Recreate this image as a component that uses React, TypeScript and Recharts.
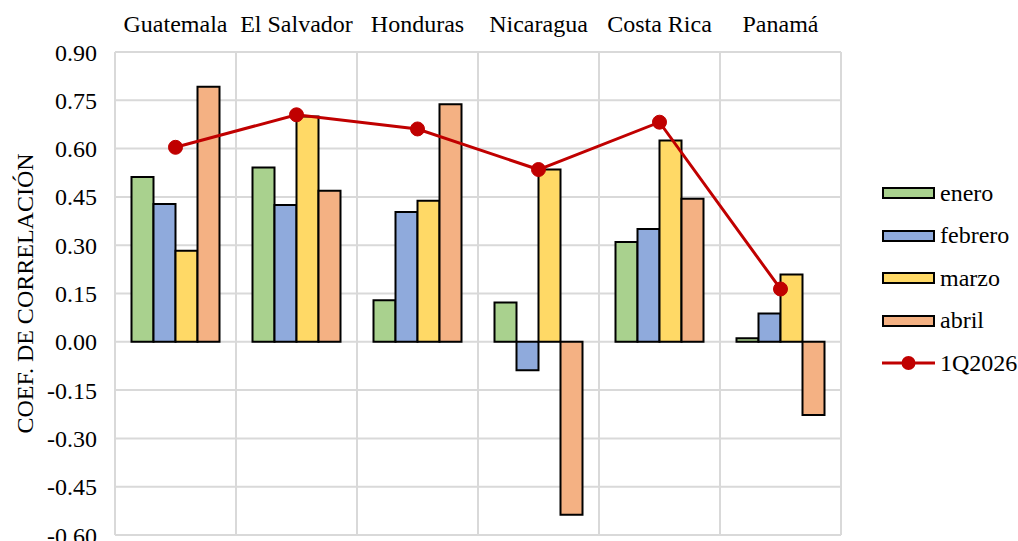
import React from 'react';
import { ComposedChart, Bar, Line, XAxis, YAxis, CartesianGrid } from 'recharts';

const countries = ['Guatemala', 'El Salvador', 'Honduras', 'Nicaragua', 'Costa Rica', 'Panamá'];
const enero = [0.512, 0.541, 0.129, 0.122, 0.31, 0.011];
const febrero = [0.428, 0.425, 0.403, -0.088, 0.35, 0.088];
const marzo = [0.283, 0.7, 0.438, 0.535, 0.625, 0.209];
const abril = [0.792, 0.469, 0.738, -0.537, 0.444, -0.227];
const q12026 = [0.604, 0.705, 0.661, 0.535, 0.682, 0.164];
const yTicks = [-0.6, -0.45, -0.3, -0.15, 0, 0.15, 0.3, 0.45, 0.6, 0.75, 0.9];

const bars = [
  { key: 'enero', color: '#A9D18E' },
  { key: 'febrero', color: '#8FAADC' },
  { key: 'marzo', color: '#FFD966' },
  { key: 'abril', color: '#F4B183' },
];
const LINE_COLOR = '#C00000';
const FONT = '"Liberation Serif", "Times New Roman", serif';
const FS = 24;

const data = countries.map((country, i) => ({
  country,
  enero: enero[i],
  febrero: febrero[i],
  marzo: marzo[i],
  abril: abril[i],
  '1Q2026': q12026[i],
}));

// vertical grid lines sit on the boundaries between categories, not on their centres
const categoryBoundaries = ({ offset }: any) => {
  const step = offset.width / countries.length;
  return Array.from({ length: countries.length + 1 }, (_, i) => offset.left + i * step);
};

const LegendBox = () => (
  <div style={{ position: 'absolute', left: 882, top: 172, fontFamily: FONT, fontSize: FS, color: '#000' }}>
    {bars.map(b => (
      <div key={b.key} style={{ display: 'flex', alignItems: 'center', height: 42.5 }}>
        <div style={{ width: 49, height: 8, background: b.color, border: '2px solid #000', marginRight: 5 }} />
        <span>{b.key}</span>
      </div>
    ))}
    <div style={{ display: 'flex', alignItems: 'center', height: 42.5 }}>
      <svg width={53} height={16} style={{ marginRight: 5 }}>
        <line x1={0} y1={8} x2={53} y2={8} stroke={LINE_COLOR} strokeWidth={3} />
        <circle cx={26.5} cy={8} r={7} fill={LINE_COLOR} />
      </svg>
      <span>1Q2026</span>
    </div>
  </div>
);

export default function App() {
  return (
    <div style={{ position: 'absolute', left: 0, top: 0, width: 1018, height: 541, background: '#fff', overflow: 'hidden' }}>
      <ComposedChart
        width={1018}
        height={541}
        data={data}
        margin={{ top: 0, right: 177, bottom: 6, left: 0 }}
        barCategoryGap={16.5}
        barGap={0}
        style={{ fontFamily: FONT }}
      >
        <CartesianGrid stroke="#D9D9D9" strokeWidth={2} verticalCoordinatesGenerator={categoryBoundaries} />
        <XAxis
          dataKey="country"
          orientation="top"
          height={52}
          axisLine={false}
          tickLine={false}
          tickSize={0}
          tickMargin={20}
          interval={0}
          tick={{ fill: '#000', fontSize: FS, fontFamily: FONT }}
        />
        <YAxis
          width={115}
          domain={[-0.6, 0.9]}
          ticks={yTicks}
          interval={0}
          axisLine={false}
          tickLine={false}
          tickSize={0}
          tickMargin={18}
          tickFormatter={(v: number) => v.toFixed(2)}
          tick={{ fill: '#000', fontSize: FS, fontFamily: FONT }}
          label={{
            value: 'COEF. DE CORRELACIÓN',
            angle: -90,
            position: 'insideLeft',
            offset: 24,
            style: { textAnchor: 'middle', fill: '#000', fontSize: FS, fontFamily: FONT },
          }}
        />
        {bars.map(b => (
          <Bar key={b.key} dataKey={b.key} fill={b.color} stroke="#000" strokeWidth={2} isAnimationActive={false} />
        ))}
        <Line
          dataKey="1Q2026"
          stroke={LINE_COLOR}
          strokeWidth={3}
          dot={{ r: 7, fill: LINE_COLOR, stroke: LINE_COLOR, strokeWidth: 1 }}
          activeDot={false}
          isAnimationActive={false}
        />
      </ComposedChart>
      <LegendBox />
    </div>
  );
}
